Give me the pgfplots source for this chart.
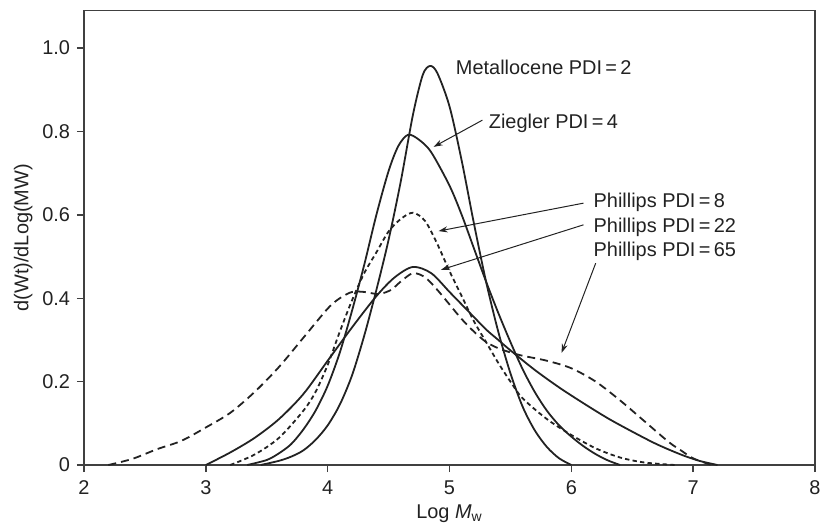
\documentclass[border=0pt]{standalone}
\usepackage{fontspec}
\setmainfont{Liberation Sans}
\usepackage{pgfplots}
\pgfplotsset{compat=1.18}
\usetikzlibrary{arrows.meta}
\definecolor{ink}{HTML}{222222}
\begin{document}
\fontsize{10}{12}\selectfont
\begin{tikzpicture}
\begin{axis}[
  at={(0,0)}, anchor=origin,
  scale only axis,
  width=365.5bp, height=227.25bp,
  xmin=2, xmax=8, ymin=0, ymax=1.09,
  xtick={2,3,4,5,6,7,8},
  ytick={0,0.2,0.4,0.6,0.8,1.0},
  yticklabels={0,0.2,0.4,0.6,0.8,1.0},
  xticklabels={2,3,4,5,6,7,8},
  xtick pos=bottom, ytick pos=left,
  tick align=outside,
  major tick length=3.5bp,
  axis line style={black!75, line width=0.7pt},
  every tick/.style={black!75, line width=0.7pt},
  tick label style={text=ink, font=\fontsize{10}{12}\selectfont},
  xticklabel style={yshift=-1bp},
  xlabel={Log \textit{M}\textsubscript{w}},
  ylabel={d(Wt)/dLog(MW)},
  label style={text=ink, font=\fontsize{10}{12}\selectfont},
  xlabel style={yshift=2bp},
  ylabel style={yshift=-2bp},
  clip=false,
]
% Metallocene PDI=2
\addplot[ink, line width=0.9pt, smooth] coordinates {
(3.45,0) (3.6,0.01) (3.7,0.02) (3.8,0.035) (3.9,0.06) (4.0,0.095) (4.1,0.145) (4.2,0.215) (4.3,0.31) (4.4,0.42) (4.5,0.54) (4.6,0.68) (4.7,0.84) (4.78,0.935) (4.84,0.957) (4.9,0.94) (5.0,0.86) (5.1,0.73) (5.2,0.58) (5.3,0.44) (5.4,0.32) (5.5,0.22) (5.6,0.14) (5.7,0.083) (5.8,0.043) (5.9,0.016) (6.0,0)
};
% Ziegler PDI=4
\addplot[ink, line width=0.9pt, smooth] coordinates {
(3.34,0) (3.5,0.012) (3.6,0.028) (3.7,0.05) (3.8,0.085) (3.9,0.13) (4.0,0.19) (4.1,0.27) (4.2,0.37) (4.3,0.48) (4.4,0.6) (4.5,0.705) (4.58,0.765) (4.66,0.792) (4.75,0.78) (4.85,0.75) (5.0,0.67) (5.1,0.6) (5.2,0.52) (5.3,0.44) (5.4,0.365) (5.5,0.295) (5.6,0.23) (5.7,0.175) (5.8,0.13) (5.9,0.095) (6.0,0.068) (6.1,0.045) (6.2,0.026) (6.3,0.011) (6.4,0)
};
% Phillips PDI=8
\addplot[ink, line width=0.9pt, smooth, dash pattern=on 2.2bp off 1.6bp] coordinates {
(3.2,0) (3.4,0.025) (3.6,0.065) (3.8,0.13) (3.9,0.175) (4.0,0.24) (4.1,0.32) (4.2,0.395) (4.3,0.46) (4.4,0.51) (4.5,0.56) (4.6,0.59) (4.7,0.605) (4.8,0.585) (4.9,0.53) (5.0,0.465) (5.1,0.405) (5.2,0.345) (5.3,0.295) (5.4,0.245) (5.5,0.2) (5.6,0.16) (5.8,0.11) (6.0,0.072) (6.2,0.04) (6.4,0.018) (6.6,0.006) (6.85,0)
};
% Phillips PDI=22
\addplot[ink, line width=0.9pt, smooth] coordinates {
(3.0,0) (3.2,0.03) (3.4,0.065) (3.6,0.11) (3.8,0.17) (4.0,0.25) (4.2,0.33) (4.4,0.405) (4.55,0.45) (4.7,0.475) (4.85,0.46) (5.0,0.415) (5.1,0.385) (5.2,0.355) (5.3,0.325) (5.4,0.3) (5.5,0.275) (5.7,0.228) (5.9,0.186) (6.1,0.148) (6.3,0.112) (6.5,0.08) (6.7,0.05) (6.9,0.025) (7.05,0.01) (7.2,0)
};
% Phillips PDI=65
\addplot[ink, line width=0.9pt, smooth, dash pattern=on 4bp off 2.5bp] coordinates {
(2.2,0) (2.4,0.015) (2.6,0.038) (2.8,0.058) (3.0,0.09) (3.2,0.125) (3.4,0.175) (3.6,0.235) (3.8,0.305) (4.0,0.375) (4.1,0.4) (4.2,0.415) (4.3,0.415) (4.42,0.41) (4.52,0.42) (4.6,0.44) (4.7,0.46) (4.8,0.45) (4.9,0.42) (5.0,0.385) (5.1,0.35) (5.2,0.32) (5.3,0.295) (5.4,0.28) (5.5,0.27) (5.6,0.262) (5.8,0.25) (6.0,0.232) (6.2,0.2) (6.4,0.155) (6.6,0.105) (6.8,0.055) (6.9,0.035) (7.0,0.016) (7.15,0)
};
% annotations
\node[anchor=west, text=ink, inner sep=0pt] at (axis cs:5.05,0.954) {Metallocene PDI\,=\,2};
\node[anchor=west, text=ink, inner sep=0pt] at (axis cs:5.32,0.82) {Ziegler PDI\,=\,4};
\node[anchor=west, text=ink, inner sep=0pt] at (axis cs:6.18,0.63) {Phillips PDI\,=\,8};
\node[anchor=west, text=ink, inner sep=0pt] at (axis cs:6.18,0.571) {Phillips PDI\,=\,22};
\node[anchor=west, text=ink, inner sep=0pt] at (axis cs:6.18,0.513) {Phillips PDI\,=\,65};
\draw[ink, line width=0.5pt, -{Stealth[length=4.5bp, width=3bp]}] (axis cs:5.27,0.827) -- (axis cs:4.87,0.763);
\draw[ink, line width=0.5pt, -{Stealth[length=4.5bp, width=3bp]}] (axis cs:6.1,0.628) -- (axis cs:4.91,0.561);
\draw[ink, line width=0.5pt, -{Stealth[length=4.5bp, width=3bp]}] (axis cs:6.1,0.576) -- (axis cs:4.93,0.468);
\draw[ink, line width=0.5pt, -{Stealth[length=4.5bp, width=3bp]}] (axis cs:6.2,0.484) -- (axis cs:5.92,0.269);
\end{axis}
\pgfresetboundingbox
\path (-42bp,-33.5bp) rectangle (369bp,232.5bp);
\end{tikzpicture}
\end{document}
